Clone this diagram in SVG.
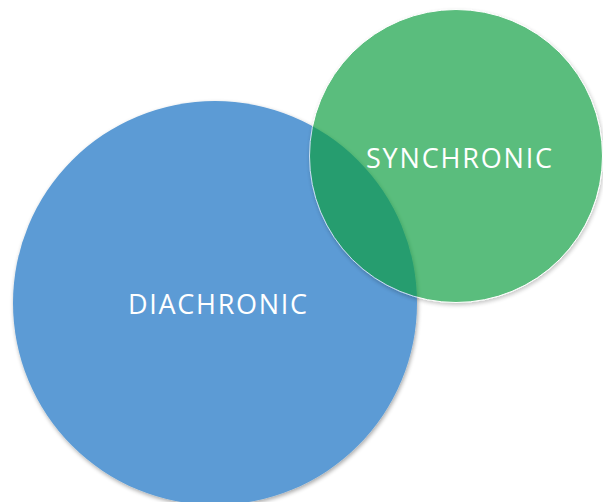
<svg xmlns="http://www.w3.org/2000/svg" width="603" height="502" viewBox="0 0 603 502">
<defs>
<filter id="sh" x="-10%" y="-10%" width="120%" height="120%">
<feGaussianBlur in="SourceAlpha" stdDeviation="2"/>
<feOffset dx="1" dy="2"/>
<feComponentTransfer><feFuncA type="linear" slope="0.35"/></feComponentTransfer>
<feMerge><feMergeNode/><feMergeNode in="SourceGraphic"/></feMerge>
</filter>
</defs>
<style>
.lbl{font-family:"Open Sans","Noto Sans","Liberation Sans",sans-serif;font-size:27px;fill:#ffffff;text-anchor:middle}
</style>
<rect width="603" height="502" fill="#ffffff"/>
<g id="diachronic">
<circle cx="215" cy="303" r="202" fill="#5b9bd5" filter="url(#sh)"/>
<text class="lbl" x="217.5" y="314" textLength="179" lengthAdjust="spacing">DIACHRONIC</text>
</g>
<g id="synchronic">
<g opacity="0.68">
<circle cx="456" cy="156" r="146.5" fill="rgb(15,159,64)" stroke="#ffffff" stroke-width="1" filter="url(#sh)"/>
</g>
<text class="lbl" x="459" y="168" textLength="186" lengthAdjust="spacing">SYNCHRONIC</text>
</g>
<g id="connectors"/>
</svg>
